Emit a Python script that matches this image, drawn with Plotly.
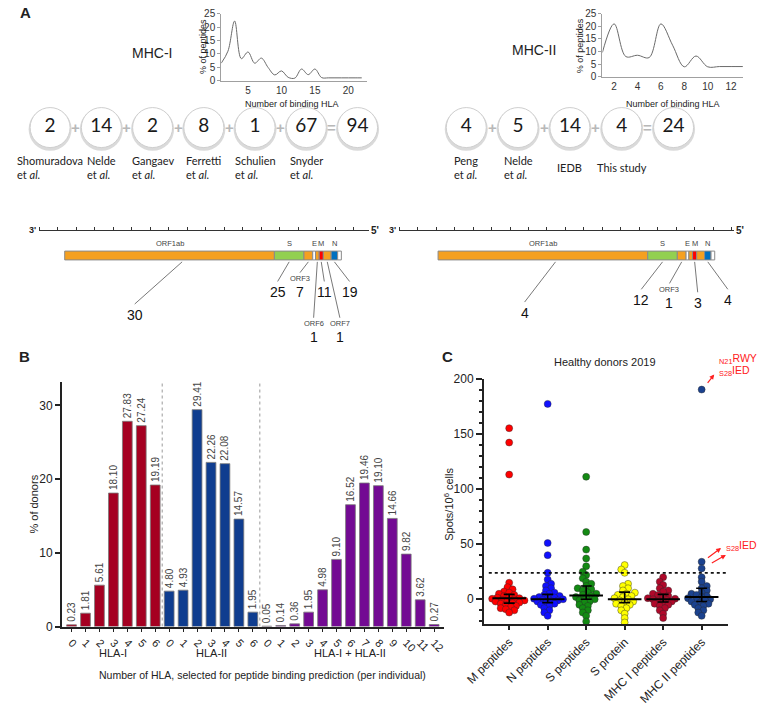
import plotly.graph_objects as go

W, H = 759, 709

# ---------------- data ----------------
# Panel A insets: % of peptides vs number of binding HLA
MHC1_N_HLA = list(range(1, 23))
MHC1_PCT = [6.5, 11.0, 22.3, 8.2, 10.7, 6.5, 8.4, 4.9, 2.1, 3.6, 1.2, 0.9, 4.3, 2.2, 4.3, 1.1,
            1.0, 1.0, 1.0, 1.0, 1.0, 1.0]
MHC2_N_HLA = list(range(1, 14))
MHC2_PCT = [9.6, 21.0, 8.0, 8.5, 7.6, 21.0, 12.5, 3.9, 8.2, 3.9, 4.0, 4.0, 4.0]

# Panel A: peptide counts per source
MHC1_SOURCES = ["Shomuradova<br>et <i>al.</i>", "Nelde<br>et <i>al.</i>", "Gangaev<br>et <i>al.</i>",
                "Ferretti<br>et <i>al.</i>", "Schulien<br>et <i>al.</i>", "Snyder<br>et <i>al.</i>"]
MHC1_COUNTS = [2, 14, 2, 8, 1, 67]
MHC1_TOTAL = 94
MHC2_SOURCES = ["Peng<br>et <i>al.</i>", "Nelde<br>et <i>al.</i>", "IEDB", "This study"]
MHC2_COUNTS = [4, 5, 14, 4]
MHC2_TOTAL = 24

# Panel A: genome map (segment lengths in kb as drawn)
GENES = ["ORF1ab", "S", "ORF3", "E", "ORF6", "M", "ORF7", "N", "ORF10"]
GENE_KB = [22.7, 3.2, 0.95, 0.3, 0.4, 0.45, 0.85, 0.7, 0.4]
GENE_COLORS = ["#f5a020", "#92d050", "#f5a020", "#ffffff", "#f5a020", "#ff0000", "#f5a020", "#0070c0", "#ffffff"]
TOP_LABELED = ["ORF1ab", "S", "E", "M", "N"]
MHC1_GENE_PEPTIDES = {"ORF1ab": 30, "S": 25, "ORF3": 7, "ORF6": 1, "M": 11, "ORF7": 1, "N": 19}
MHC2_GENE_PEPTIDES = {"ORF1ab": 4, "S": 12, "ORF3": 1, "M": 3, "N": 4}

# Panel B: % of donors by number of HLA
HLA1_PCT = [0.23, 1.81, 5.61, 18.10, 27.83, 27.24, 19.19]
HLA2_PCT = [4.80, 4.93, 29.41, 22.26, 22.08, 14.57, 1.95]
HLA12_PCT = [0.05, 0.14, 0.36, 1.95, 4.98, 9.10, 16.52, 19.46, 19.10, 14.66, 9.82, 3.62, 0.27]
B_GROUPS = ["HLA-I", "HLA-II", "HLA-I + HLA-II"]

# Panel C: spots / 10^6 cells, healthy donors 2019
C_GROUPS = ["M peptides", "N peptides", "S peptides", "S protein", "MHC I peptides", "MHC II peptides"]
M_PEP = [155, 142, 113, 15, 11, 9, 7, 6, 5, 4, 3, 2, 1.5, 1, 0.5, 0, -0.5, -1, -1.5, -2, -3, -3.5,
         -4, -5, -6, -7, -8, -9, -10, -12]
N_PEP = [177, 51, 40, 24, 18, 14, 12, 10, 8, 6, 5, 4, 3, 2, 1.5, 1, 0.5, 0, -0.5, -1, -1.5, -2, -3,
         -4, -5, -6, -8, -10, -12, -15]
S_PEP = [111, 61, 45, 37, 30, 25, 22, 19, 16, 14, 12, 10, 9, 8, 6, 5, 4, 3, 2, 1, 0, -1, -2, -3, -5,
         -6, -8, -10, -12, -15, -20]
S_PROT = [31, 27, 24, 14, 12, 10, 8, 6, 5, 4, 3, 2, 1, 0, -1, -2, -3, -4, -5, -6, -8, -10, -13, -17, -21]
MHC1_PEP = [20, 16, 13, 10, 8, 7, 5, 4, 3, 2, 1, 0.5, 0, -0.5, -1, -2, -3, -4, -5, -6, -8, -10, -13, -17]
MHC2_PEP = [190, 34, 28, 20, 16, 12, 10, 8, 6, 5, 4, 3, 2, 1, 0, -0.5, -1, -2, -3, -4, -5, -6, -8,
            -10, -12, -15]
C_VALUES = [M_PEP, N_PEP, S_PEP, S_PROT, MHC1_PEP, MHC2_PEP]
C_CENTER = [1, 0, 3.5, 0, 0, 2]
C_LOW = [-3.5, -3, 0, -3, -2.5, -2]
C_HIGH = [4.5, 4.5, 12, 6.5, 4.5, 10]
C_THRESHOLD = 24
C_COLORS = ["#ff0000", "#1010ff", "#138a13", "#ffff00", "#b0082a", "#1b428f"]

# ---------------- style ----------------
ARIAL = "Liberation Sans, Arial, sans-serif"
GILL = "Lato, sans-serif"
TXT = "#222222"
HLA_COLORS = ["#a50021", "#0f3d8f", "#730a93"]


def px_x(a, b):
    return [a / W, b / W]


def px_y(top, bottom):
    return [1 - bottom / H, 1 - top / H]


fig = go.Figure()
layout = {}
annotations = []
shapes = []


def note(x, y, text, size=11, family=ARIAL, color=TXT, xref="x7", yref="y7", **kw):
    kw.setdefault("xanchor", "center")
    kw.setdefault("yanchor", "middle")
    annotations.append(dict(x=x, y=y, text=text, xref=xref, yref=yref, showarrow=False,
                            font=dict(size=size, family=family, color=color), **kw))


# ---------------- panel A: insets ----------------
for i, (xs, ys, xdom, ydom, xr, xticks) in enumerate([
    (MHC1_N_HLA, MHC1_PCT, (208, 358), (7, 75), [1, 22.8], [5, 10, 15, 20]),
    (MHC2_N_HLA, MHC2_PCT, (600, 745), (7, 71), [1, 13.05], [2, 4, 6, 8, 10, 12]),
], start=1):
    sfx = "" if i == 1 else str(i)
    fig.add_trace(go.Scatter(x=xs, y=ys, mode="lines", xaxis="x" + sfx, yaxis="y" + sfx,
                             line=dict(color="#6a6a6a", width=1, shape="spline", smoothing=1.0),
                             hoverinfo="skip"))
    layout["xaxis" + sfx] = dict(domain=px_x(*xdom), range=xr, tickvals=xticks, showline=True,
                                 linecolor="#a0a0a0", linewidth=1, ticks="", showgrid=False,
                                 zeroline=False, anchor="y" + sfx,
                                 tickfont=dict(size=10, family=ARIAL, color="#333"))
    layout["yaxis" + sfx] = dict(domain=px_y(*ydom), range=[0, 25], dtick=5, showline=True,
                                 linecolor="#a0a0a0", linewidth=1, ticks="outside", ticklen=3,
                                 tickcolor="#a0a0a0", showgrid=False, zeroline=False,
                                 anchor="x" + sfx, tickfont=dict(size=10, family=ARIAL, color="#333"))

note(189, 40, "% of peptides", size=9, textangle=-90)
note(281, 99, "Number of binding HLA", size=9)
note(577, 40, "% of peptides", size=9, textangle=-90)
note(673, 99, "Number of binding HLA", size=9)
note(137, 47, "MHC-I", size=14)
note(530, 44, "MHC-II", size=14)
note(7, 6, "<b>A</b>", size=15)
note(6, 357, "<b>B</b>", size=15)
note(441, 357, "<b>C</b>", size=15)

# ---------------- panel A: count circles ----------------
CIRCLE_Y = 123
for x_start, step, counts, total, sources in [
    (32, 52.7, MHC1_COUNTS, MHC1_TOTAL, MHC1_SOURCES),
    (460, 53.3, MHC2_COUNTS, MHC2_TOTAL, MHC2_SOURCES),
]:
    vals = counts + [total]
    cx = [x_start + k * step for k in range(len(vals))]
    fig.add_trace(go.Scatter(x=cx, y=[CIRCLE_Y + 1.8] * len(cx), mode="markers", xaxis="x7", yaxis="y7",
                             marker=dict(size=43, color="#dadada", line=dict(width=0)), hoverinfo="skip"))
    fig.add_trace(go.Scatter(x=cx, y=[CIRCLE_Y] * len(cx), mode="markers+text", xaxis="x7", yaxis="y7",
                             marker=dict(size=40, color="#ffffff", line=dict(color="#cfcfcf", width=1)),
                             text=[str(v) for v in vals], textposition="middle center",
                             textfont=dict(size=19, family=GILL, color="#1a1a1a"), hoverinfo="skip"))
    for k in range(len(vals) - 1):
        op = "=" if k == len(vals) - 2 else "+"
        note((cx[k] + cx[k + 1]) / 2, CIRCLE_Y, f"<b>{op}</b>", size=15, color="#b8b8b8")
    for k, src in enumerate(sources):
        note(cx[k], 164, src, size=11, family=GILL, align="left")

# ---------------- panel A: genome maps ----------------
PX_PER_KB = 9.5
BAR_Y = 253.5
SUB_LABELED = ["ORF3", "ORF6", "ORF7"]
MAP1_LABEL_PX = {"ORF1ab": (119, 314), "S": (266, 291), "ORF3": (289, 291), "ORF6": (303, 337),
                 "M": (314, 291), "ORF7": (330, 337), "N": (340, 291)}
MAP2_LABEL_PX = {"ORF1ab": (520, 312), "S": (640, 299), "ORF3": (669, 302), "M": (698, 302),
                 "N": (729, 299)}

for ax_id, (left, right), start_px, counts, label_px in [
    (5, (21, 360), 47, MHC1_GENE_PEPTIDES, MAP1_LABEL_PX),
    (6, (391, 735), 431, MHC2_GENE_PEPTIDES, MAP2_LABEL_PX),
]:
    xa, ya = f"x{ax_id}", f"y{ax_id}"
    start = (start_px - left) / PX_PER_KB
    bases = []
    acc = start
    for L in GENE_KB:
        bases.append(acc)
        acc += L
    fig.add_trace(go.Bar(orientation="h", x=GENE_KB, y=[BAR_Y] * len(GENES), base=bases, width=9,
                         marker=dict(color=GENE_COLORS, line=dict(color="#8a8a8a", width=1)),
                         xaxis=xa, yaxis=ya, hoverinfo="skip"))
    layout[f"xaxis{ax_id}"] = dict(domain=px_x(left, right), range=[0, (right - left) / PX_PER_KB],
                                   side="top", showline=True, linecolor="#333", linewidth=1,
                                   ticks="outside", ticklen=3, tickcolor="#333", dtick=2, tick0=0,
                                   showticklabels=False, showgrid=False, zeroline=False, anchor=ya)
    layout[f"yaxis{ax_id}"] = dict(domain=px_y(229, 345), range=[345, 229], visible=False, anchor=xa)
    note(left - 7, 227, "<b>3'</b>", size=9)
    note(right + 6, 228, "<b>5'</b>", size=10)
    for g in TOP_LABELED:
        k = GENES.index(g)
        note(bases[k] + GENE_KB[k] / 2, 241, g, size=7.5, color="#444", xref=xa, yref=ya)
    for g, n in counts.items():
        k = GENES.index(g)
        frac = 0.56 if g == "ORF1ab" else 0.5
        x0 = bases[k] + GENE_KB[k] * frac
        lx = (label_px[g][0] - left) / PX_PER_KB
        ly = label_px[g][1]
        if g in SUB_LABELED:
            note(lx, ly - 14, g, size=7.5, color="#444", xref=xa, yref=ya)
            y_end = ly - 20
        else:
            y_end = ly - 11
        shapes.append(dict(type="line", xref=xa, yref=ya, x0=x0, y0=260, x1=lx, y1=y_end,
                           line=dict(color="#555", width=0.8)))
        note(lx, ly, str(n), size=14, color="#111", xref=xa, yref=ya)

# ---------------- panel B ----------------
pos = 0
group_mid = []
n_total = len(HLA1_PCT) + len(HLA2_PCT) + len(HLA12_PCT)
for vals, color in zip([HLA1_PCT, HLA2_PCT, HLA12_PCT], HLA_COLORS):
    xs = list(range(pos, pos + len(vals)))
    fig.add_trace(go.Bar(x=xs, y=vals, width=0.7, xaxis="x3", yaxis="y3",
                         marker=dict(color=color, line=dict(color="#7a7a7a", width=0.8)),
                         text=[f"{v:.2f}" for v in vals], textposition="outside", textangle=-90,
                         constraintext="none", cliponaxis=False,
                         textfont=dict(size=10, family=ARIAL, color="#444"), hoverinfo="skip"))
    group_mid.append(pos + (len(vals) - 1) / 2)
    pos += len(vals)
    if pos < n_total:
        shapes.append(dict(type="line", xref="x3", yref="y3", x0=pos - 0.5, x1=pos - 0.5, y0=0, y1=33.1,
                           line=dict(color="#9a9a9a", width=1, dash="dot")))

tick_text = [str(i) for i in range(len(HLA1_PCT))] + [str(i) for i in range(len(HLA2_PCT))] + \
            [str(i) for i in range(len(HLA12_PCT))]
layout["xaxis3"] = dict(domain=px_x(44, 437), range=[-0.7, 26.7], tickvals=list(range(pos)),
                        ticktext=tick_text, tickangle=45, ticks="outside", ticklen=4, tickwidth=1.2,
                        tickcolor="#222", showline=True, linecolor="#222", linewidth=1.5,
                        showgrid=False, zeroline=False, anchor="y3",
                        tickfont=dict(size=11, family=ARIAL, color=TXT))
layout["yaxis3"] = dict(domain=px_y(383, 632), range=[0, 33.1], tickvals=[0, 10, 20, 30],
                        ticks="outside", ticklen=5, tickwidth=1.5, tickcolor="#222", showline=True,
                        linecolor="#222", linewidth=1.5, showgrid=False, zeroline=False, anchor="x3",
                        tickfont=dict(size=12, family=ARIAL, color=TXT))
for name, xm in zip(B_GROUPS, group_mid):
    note(xm, 1 - 659 / H, name, size=11, xref="x3", yref="paper")
note(15, 507, "% of donors", size=11, textangle=-90)
note(250, 681, "Number of HLA, selected for peptide binding prediction (per individual)", size=10.5)

# ---------------- panel C ----------------
C_Y_PX = 250 / 222
C_X_PX = 251 / 6.34
DOT = 7


def swarm(vals, diam=DOT):
    placed, out = [], [0.0] * len(vals)
    step = diam * 0.25
    d2 = (diam * 0.6) ** 2
    for i in sorted(range(len(vals)), key=lambda j: vals[j]):
        yp = vals[i] * C_Y_PX
        k = 0
        while True:
            cands = [0.0] if k == 0 else ([k * step, -k * step] if k % 2 else [-k * step, k * step])
            hit = next((c for c in cands if all((c - a) ** 2 + (yp - b) ** 2 >= d2 for a, b in placed)), None)
            if hit is not None:
                break
            k += 1
        placed.append((hit, yp))
        out[i] = hit / C_X_PX
    return out


for gi, (vals, color) in enumerate(zip(C_VALUES, C_COLORS)):
    offs = swarm(vals)
    fig.add_trace(go.Scatter(x=[gi + o for o in offs], y=vals, mode="markers", xaxis="x4", yaxis="y4",
                             marker=dict(size=DOT, color=color, line=dict(color="rgba(40,40,40,0.7)", width=0.6)),
                             cliponaxis=False, hoverinfo="skip"))

fig.add_trace(go.Scatter(x=list(range(len(C_GROUPS))), y=C_CENTER, mode="markers", xaxis="x4", yaxis="y4",
                         marker=dict(symbol="line-ew", size=24, line=dict(color="#000", width=2)),
                         error_y=dict(type="data", array=[h - c for h, c in zip(C_HIGH, C_CENTER)],
                                      arrayminus=[c - l for c, l in zip(C_CENTER, C_LOW)],
                                      color="#000", thickness=1.6, width=5.5),
                         hoverinfo="skip"))
shapes.append(dict(type="line", xref="x4", yref="y4", x0=-0.53, x1=5.66, y0=C_THRESHOLD, y1=C_THRESHOLD,
                   line=dict(color="#111", width=1.8, dash="dot")))

layout["xaxis4"] = dict(domain=px_x(478, 729), range=[-0.66, 5.68], tickvals=list(range(len(C_GROUPS))),
                        ticktext=C_GROUPS, tickangle=-45, ticks="outside", ticklen=5, tickwidth=1.5,
                        tickcolor="#222", showline=True, linecolor="#222", linewidth=1.5,
                        showgrid=False, zeroline=False, anchor="y4",
                        tickfont=dict(size=12, family=ARIAL, color=TXT))
layout["yaxis4"] = dict(domain=px_y(379, 629), range=[-22, 200], tickvals=[0, 50, 100, 150, 200],
                        ticks="outside", ticklen=6, tickwidth=1.5, tickcolor="#222", showline=True,
                        linecolor="#222", linewidth=1.5, showgrid=False, zeroline=False, anchor="x4",
                        minor=dict(dtick=10, tick0=0, ticks="outside", ticklen=3, tickcolor="#222"),
                        tickfont=dict(size=12, family=ARIAL, color=TXT))
note(442, 507, "Spots/10<sup>6</sup> cells", size=11, textangle=-90)
note(603, 362, "Healthy donors 2019", size=11)

RED = "#ff2020"
note(718, 359, "<sub>N21</sub>RWY", size=10.5, color=RED, xanchor="left")
note(718, 371, "<sub>S28</sub>IED", size=10.5, color=RED, xanchor="left")
note(725, 550, "<sub>S28</sub>IED", size=10.5, color=RED, xanchor="left")
for (hx, hy, tx, ty) in [(715, 375, 707, 385), (722, 552, 707, 563), (727, 559, 711, 568)]:
    annotations.append(dict(x=hx, y=hy, ax=tx, ay=ty, xref="x7", yref="y7", axref="x7", ayref="y7",
                            text="", showarrow=True, arrowhead=2, arrowsize=0.8, arrowwidth=1.2,
                            arrowcolor=RED))

# overlay axis in pixel coordinates
layout["xaxis7"] = dict(domain=[0, 1], range=[0, W], visible=False, anchor="y7")
layout["yaxis7"] = dict(domain=[0, 1], range=[H, 0], visible=False, anchor="x7")

fig.update_layout(
    **layout,
    width=W, height=H,
    margin=dict(l=0, r=0, t=0, b=0),
    paper_bgcolor="#ffffff",
    plot_bgcolor="rgba(0,0,0,0)",
    showlegend=False,
    barmode="overlay",
    annotations=annotations,
    shapes=shapes,
    font=dict(family=ARIAL, color=TXT),
)

fig.write_html("out.html", config={"displayModeBar": False},
               post_script="document.body.style.margin='0';")
